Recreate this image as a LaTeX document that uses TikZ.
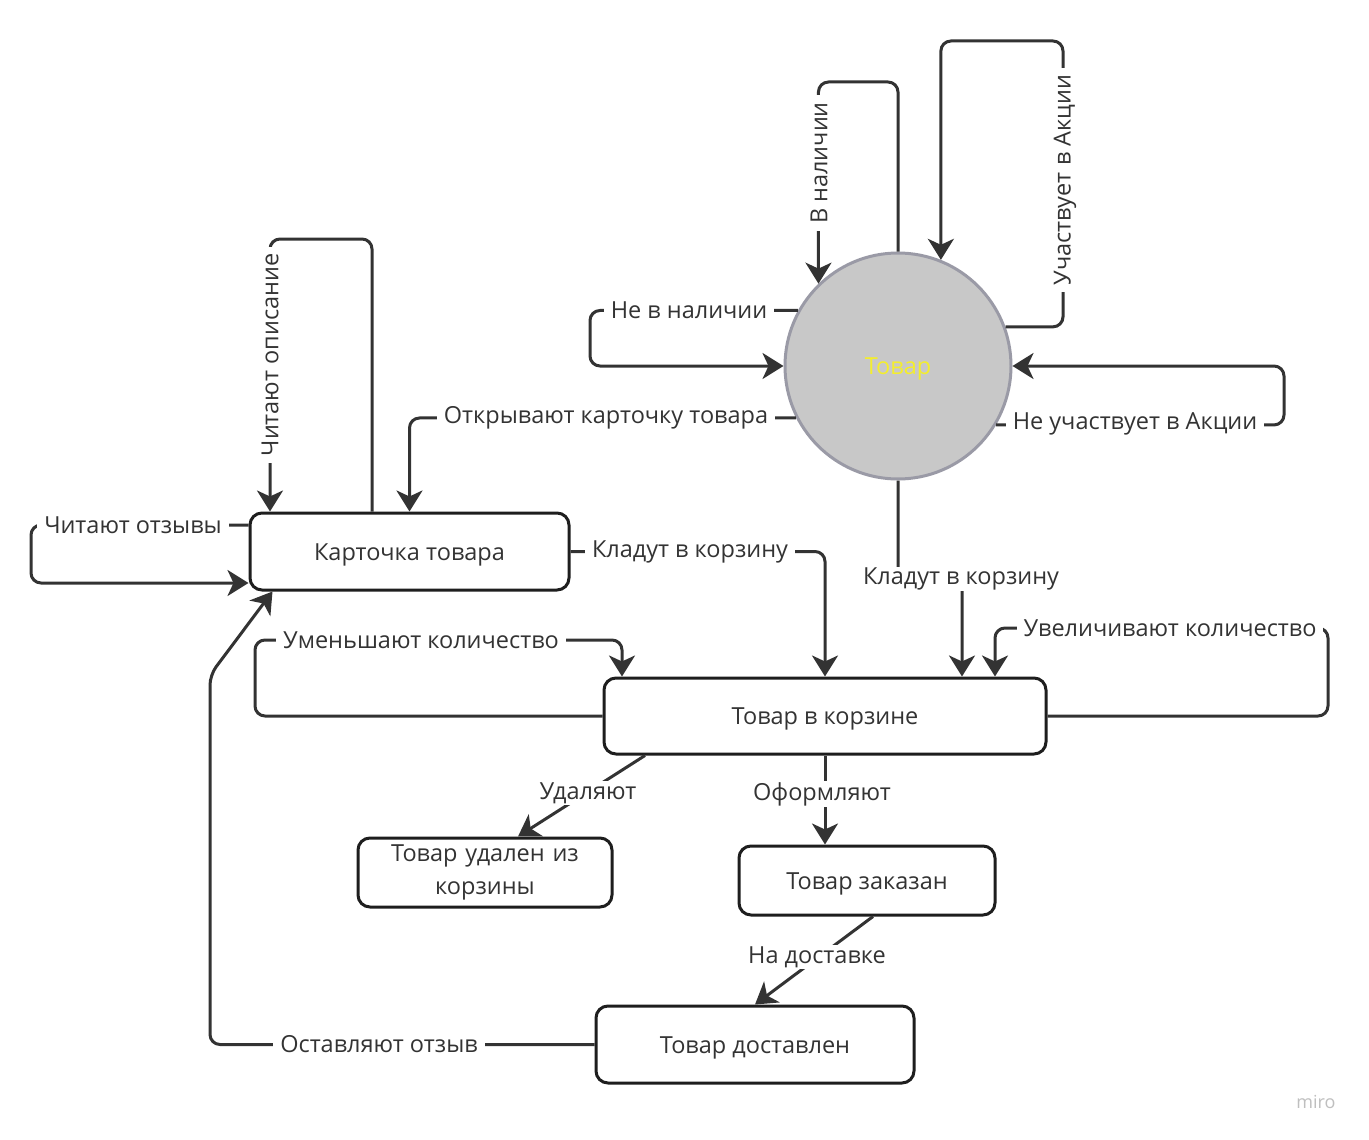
\documentclass[tikz,border=0pt]{standalone}
\usepackage{fontspec}
\setmainfont{Open Sans}
\usetikzlibrary{arrows.meta}
\definecolor{ln}{HTML}{333333}
\definecolor{bx}{HTML}{1E1E1E}
\definecolor{cfill}{HTML}{C8C8C8}
\definecolor{cdraw}{HTML}{9A9AA6}
\definecolor{ytxt}{HTML}{F4EE2C}
\begin{document}
\begin{tikzpicture}[x=1pt,y=-1pt,
  txt/.style={font=\fontsize{23.5}{33}\selectfont, text=ln},
  box/.style={draw=bx, line width=3pt, rounded corners=12pt, fill=white, txt, align=center, inner sep=0pt},
  oneline/.style={text height=20pt, text depth=2.8pt},
  con/.style={draw=ln, line width=3pt, rounded corners=10pt, -{Stealth[length=21pt,width=26pt,inset=6pt]}},
  lbl/.style={fill=white, txt, inner xsep=7pt, inner ysep=1pt}]
\useasboundingbox (0,0) rectangle (1369,1140);
\fill[white] (0,0) rectangle (1369,1140);

% nodes
\node[circle, draw=cdraw, fill=cfill, line width=3pt, minimum size=226pt, inner sep=0pt,
      font=\fontsize{23.5}{31}\selectfont, text=ytxt, oneline] (tovar) at (898,366) {Товар};
\node[box, oneline, minimum width=319pt, minimum height=77pt] (kart) at (409.5,551.5) {Карточка товара};
\node[box, oneline, minimum width=442pt, minimum height=76pt] (korz) at (825,716) {Товар в корзине};
\node[box, minimum width=254pt, minimum height=69pt, text width=240pt] (udal) at (485,872.5) {Товар удален из\\корзины};
\node[box, oneline, minimum width=256pt, minimum height=69pt] (zak) at (867,880.5) {Товар заказан};
\node[box, oneline, minimum width=318pt, minimum height=77pt] (dost) at (755,1044.5) {Товар доставлен};

% helper coordinates
\coordinate (k1) at ([xshift=-203pt]korz.north);
\coordinate (k2) at ([xshift=137pt]korz.north);
\coordinate (k3) at ([xshift=170pt]korz.north);
\coordinate (ka) at ([xshift=-37.5pt]kart.north);
\coordinate (kb) at ([xshift=-139.5pt]kart.north);
\coordinate (kc) at ([yshift=26.5pt]kart.west);
\coordinate (kd) at ([yshift=-31.5pt]kart.west);
\coordinate (ke) at ([xshift=24pt]kart.south west);
\coordinate (ks) at ([xshift=-180pt]korz.south);
\coordinate (us) at ([xshift=33pt]udal.north);
\coordinate (zs) at ([xshift=6pt]zak.south);

% connectors
\draw[con] (tovar.north) -- (898,82) -| (tovar.134);
\draw[con] (tovar.20) -| (1063,41) -| (tovar.68);
\draw[con] (tovar.151) -| (590,366) -- (tovar.west);
\draw[con] (tovar.-31) -| (1284,366) -- (tovar.east);
\draw[con] (tovar.207) -| (kart.north);
\draw[con] (ka) |- (270,239) -- (kb);
\draw[con] (kc) -| (31,555) |- (kd);
\draw[con] (kart.east) -| (korz.north);
\draw[con] (tovar.south) -- (898,579) -- (962,579) -- (k2);
\draw[con] (korz.west) -| (255,640) -| (k1);
\draw[con] (korz.east) -| (1328,628) -| (k3);
\draw[con] (ks) -- (us);
\draw[con] (korz.south) -- (korz.south |- zak.north);
\draw[con] (zs) -- (dost.north);
\draw[con] (dost.west) -| (210,675) -- (ke);

% labels
\node[lbl, rotate=90] (l1) at (819,163) {В наличии};
\node[lbl, rotate=90] (l2) at (1065,180) {Участвует в Акции};
\node[lbl] (l3) at (689,310) {Не в наличии};
\node[lbl] (l4) at (1135,424) {Не участвует в Акции};
\node[lbl] (l5) at (606,418) {Открывают карточку товара};
\node[lbl, rotate=90] (l6) at (270,355) {Читают описание};
\node[lbl] (l7) at (133,525) {Читают отзывы};
\node[lbl] (l8) at (690,552) {Кладут в корзину};
\node[lbl] (l9) at (961,579) {Кладут в корзину};
\node[lbl] (l10) at (421,640) {Уменьшают количество};
\node[lbl] (l11) at (1170,628) {Увеличивают количество};
\node[lbl] (l12) at (588,793) {Удаляют};
\node[lbl] (l13) at (822,794) {Оформляют};
\node[lbl] (l14) at (817,957) {На доставке};
\node[lbl] (l15) at (379,1044) {Оставляют отзыв};

\node[font=\fontsize{18}{22}\selectfont, text=black!25] (miro) at (1316,1102) {miro};
\end{tikzpicture}
\end{document}
